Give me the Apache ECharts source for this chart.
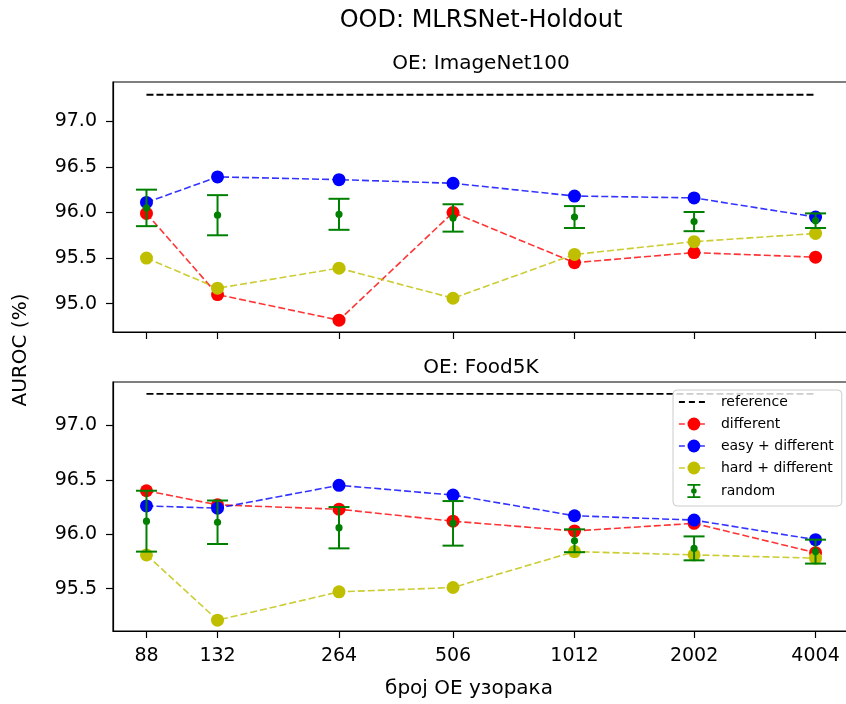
<!DOCTYPE html>
<html>
<head>
<meta charset="utf-8">
<script src="https://cdn.jsdelivr.net/npm/echarts@6/dist/echarts.min.js"></script>
<style>
  html, body { margin: 0; padding: 0; background: #fff; overflow: hidden; }
  /* the canvas runs a little past the window so the right frame edge falls outside the view */
  #chart { width: 856px; height: 704px; }
</style>
</head>
<body>
<div id="chart"></div>
<script>
// Number of OE samples (log-scaled x axis)
const sampleCounts = [88, 132, 264, 506, 1012, 2002, 4004];
const yTicksTop = [95.0, 95.5, 96.0, 96.5, 97.0];
const yTicksBottom = [95.5, 96.0, 96.5, 97.0];

// Reference AUROC level
const referenceLevel = 97.29;

// OE: ImageNet100
const inDifferent = [95.99, 95.10, 94.82, 96.00, 95.45, 95.56, 95.51];
const inEasyDifferent = [96.11, 96.39, 96.36, 96.32, 96.18, 96.16, 95.95];
const inHardDifferent = [95.50, 95.17, 95.39, 95.06, 95.54, 95.68, 95.77];
const inRandomMean = [96.05, 95.97, 95.98, 95.94, 95.95, 95.90, 95.91];
const inRandomErr = [0.20, 0.22, 0.17, 0.15, 0.12, 0.105, 0.08];

// OE: Food5K
const foodDifferent = [96.40, 96.27, 96.23, 96.12, 96.03, 96.10, 95.83];
const foodEasyDifferent = [96.26, 96.24, 96.45, 96.36, 96.17, 96.13, 95.95];
const foodHardDifferent = [95.81, 95.21, 95.47, 95.51, 95.84, 95.81, 95.78];
const foodRandomMean = [96.12, 96.11, 96.06, 96.10, 95.94, 95.87, 95.84];
const foodRandomErr = [0.28, 0.20, 0.19, 0.205, 0.105, 0.11, 0.11];

const FONT = 'DejaVu Sans';
const RED = '#ff0000', BLUE = '#0000ff', OLIVE = '#bfbf00', GREEN = '#008000';
const DASH = [7, 3];

const pairs = (xs, ys) => xs.map((x, i) => [x, ys[i]]);
const errData = (xs, m, e) => xs.map((x, i) => [x, m[i], m[i] - e[i], m[i] + e[i]]);

function renderErrorBar(params, api) {
  const x = api.value(0);
  const mid = api.coord([x, api.value(1)]);
  const lo = api.coord([x, api.value(2)]);
  const hi = api.coord([x, api.value(3)]);
  const cap = 10.5;
  const st = { stroke: GREEN, lineWidth: 2, fill: null };
  return {
    type: 'group',
    children: [
      { type: 'line', shape: { x1: lo[0], y1: lo[1], x2: hi[0], y2: hi[1] }, style: st },
      { type: 'line', shape: { x1: lo[0] - cap, y1: lo[1], x2: lo[0] + cap, y2: lo[1] }, style: st },
      { type: 'line', shape: { x1: hi[0] - cap, y1: hi[1], x2: hi[0] + cap, y2: hi[1] }, style: st },
      { type: 'circle', shape: { cx: mid[0], cy: mid[1], r: 3.6 }, style: { fill: GREEN } }
    ]
  };
}

function lineSeries(name, color, data, gi) {
  return {
    name, type: 'line', xAxisIndex: gi, yAxisIndex: gi, data,
    symbol: 'circle', symbolSize: 13,
    itemStyle: { color },
    lineStyle: { color, width: 1.6, type: DASH, opacity: 0.8 },
    emphasis: { disabled: true }, animation: false, z: 3
  };
}

function panelSeries(gi, diff, easy, hard, rMean, rErr) {
  return [
    {
      name: 'reference', type: 'line', xAxisIndex: gi, yAxisIndex: gi,
      data: [[sampleCounts[0], referenceLevel], [sampleCounts[sampleCounts.length - 1], referenceLevel]],
      symbol: 'none', itemStyle: { color: '#000' },
      lineStyle: { color: '#000', width: 1.8, type: DASH },
      emphasis: { disabled: true }, animation: false, z: 2
    },
    lineSeries('different', RED, pairs(sampleCounts, diff), gi),
    lineSeries('easy + different', BLUE, pairs(sampleCounts, easy), gi),
    lineSeries('hard + different', OLIVE, pairs(sampleCounts, hard), gi),
    {
      name: 'random', type: 'custom', xAxisIndex: gi, yAxisIndex: gi,
      data: errData(sampleCounts, rMean, rErr),
      encode: { x: 0, y: [1, 2, 3] },
      renderItem: renderErrorBar,
      itemStyle: { color: GREEN },
      animation: false, z: 4
    }
  ];
}

const axisText = { fontFamily: FONT, fontSize: 19, color: '#000' };
const blackLine = { show: true, onZero: false, lineStyle: { color: '#000', width: 1.2 } };

function xAxis(gi, showLabels) {
  return {
    type: 'log', logBase: 2, gridIndex: gi,
    min: 72.7, max: 4846,
    axisLine: blackLine,
    axisTick: { show: true, length: 7, customValues: sampleCounts, lineStyle: { color: '#000', width: 1.2 } },
    axisLabel: { show: showLabels, customValues: sampleCounts, margin: 16, ...axisText, formatter: v => String(Math.round(v)) },
    splitLine: { show: false }, minorTick: { show: false }
  };
}

function yAxis(gi, min, max, ticks) {
  return {
    type: 'value', gridIndex: gi, min, max,
    axisLine: blackLine,
    axisTick: { show: true, length: 7, customValues: ticks, lineStyle: { color: '#000', width: 1.2 } },
    axisLabel: { customValues: ticks, margin: 16, ...axisText, formatter: v => v.toFixed(1) },
    splitLine: { show: false }
  };
}

// errorbar legend glyph: caps, stem and centre dot inside a 30x16 box
const errorbarIcon = 'path://M0,0h0.01v0.01h-0.01z M29.99,15.99h0.01v0.01h-0.01z ' +
  'M8.5,1h13v1.8h-13z M8.5,13.2h13v1.8h-13z ' +
  'M14.1,2.8h1.8v2.4h-1.8z M14.1,10.8h1.8v2.4h-1.8z ' +
  'M12.2,8a2.8,2.8 0 1,0 5.6,0a2.8,2.8 0 1,0 -5.6,0z';

const legendDash = { type: [6, 4], width: 1.6, opacity: 0.8 };

const chart = echarts.init(document.getElementById('chart'), null, { renderer: 'canvas' });
chart.setOption({
  backgroundColor: '#fff',
  animation: false,
  grid: [
    { left: 113, top: 82, width: 736, height: 250, outerBoundsMode: 'none', show: true, borderColor: '#000', borderWidth: 1.2, backgroundColor: 'transparent' },
    { left: 113, top: 382, width: 736, height: 249, outerBoundsMode: 'none', show: true, borderColor: '#000', borderWidth: 1.2, backgroundColor: 'transparent' }
  ],
  xAxis: [xAxis(0, false), xAxis(1, true)],
  yAxis: [yAxis(0, 94.69, 97.43, yTicksTop), yAxis(1, 95.11, 97.40, yTicksBottom)],
  legend: {
    orient: 'vertical', left: 673, top: 390,
    itemWidth: 30, itemHeight: 16, itemGap: 8,
    padding: [5, 8, 7, 5],
    backgroundColor: 'rgba(255,255,255,0.8)', borderColor: '#cccccc', borderWidth: 1, borderRadius: 4,
    textStyle: { fontFamily: FONT, fontSize: 14, color: '#000', padding: [2, 0, 2, 7] },
    selectedMode: false,
    data: [
      { name: 'reference', itemStyle: { opacity: 0 }, lineStyle: { type: [6, 4], width: 1.8, color: '#000', opacity: 1 } },
      { name: 'different', lineStyle: legendDash },
      { name: 'easy + different', lineStyle: legendDash },
      { name: 'hard + different', lineStyle: legendDash },
      { name: 'random', icon: errorbarIcon }
    ]
  },
  graphic: [
    { type: 'text', x: 481, y: 21, style: { text: 'OOD: MLRSNet-Holdout', font: '24px "DejaVu Sans"', fill: '#000', align: 'center', verticalAlign: 'middle' } },
    { type: 'text', x: 481, y: 64, style: { text: 'OE: ImageNet100', font: '20px "DejaVu Sans"', fill: '#000', align: 'center', verticalAlign: 'middle' } },
    { type: 'text', x: 481, y: 368, style: { text: 'OE: Food5K', font: '20px "DejaVu Sans"', fill: '#000', align: 'center', verticalAlign: 'middle' } },
    { type: 'text', x: 469, y: 689, style: { text: 'број ОЕ узорака', font: '20px "DejaVu Sans"', fill: '#000', align: 'center', verticalAlign: 'middle' } },
    { type: 'text', x: 21, y: 350, rotation: Math.PI / 2, style: { text: 'AUROC (%)', font: '20px "DejaVu Sans"', fill: '#000', align: 'center', verticalAlign: 'middle' } }
  ],
  series: [
    ...panelSeries(0, inDifferent, inEasyDifferent, inHardDifferent, inRandomMean, inRandomErr),
    ...panelSeries(1, foodDifferent, foodEasyDifferent, foodHardDifferent, foodRandomMean, foodRandomErr)
  ]
});
</script>
</body>
</html>
